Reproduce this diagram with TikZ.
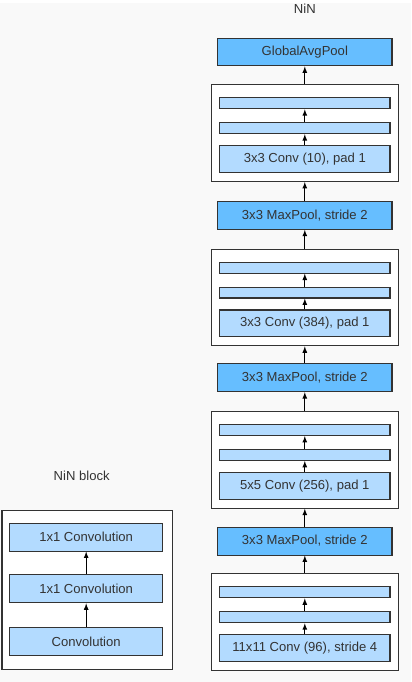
\documentclass[tikz,border=0pt]{standalone}
\usepackage{fontspec}
\setmainfont{Liberation Sans}
\definecolor{pale}{HTML}{B3DBFF}
\definecolor{deep}{HTML}{66BEFF}
\definecolor{edge}{HTML}{333333}
\definecolor{paper}{HTML}{F9F9F9}
\begin{document}
\begin{tikzpicture}[x=0.03cm,y=-0.03cm,font=\fontsize{11.2}{13}\selectfont,
  box/.style={draw=edge,line width=0.9pt,text=edge,inner sep=0pt,anchor=north},
  pool/.style={box,fill=deep,minimum width=5.25cm,minimum height=0.84cm},
  bar/.style={box,fill=pale,minimum width=5.13cm,minimum height=0.33cm},
  conv/.style={box,fill=pale,minimum width=5.13cm,minimum height=0.81cm},
  blk/.style={box,fill=white,minimum width=5.64cm,minimum height=2.91cm},
  unit/.style={box,fill=pale,minimum width=4.59cm,minimum height=0.84cm},
  up/.style={-latex,draw=black,line width=0.9pt}]
\fill[paper](0,0)rectangle(413,682);
% NiN
\node[text=edge](nin)at(306,6){NiN};
\node[pool](gap)at(306,35){GlobalAvgPool};
\foreach \i/\t in {1/199,2/362,3/526}{\node[pool](pool\i)at(306,\t){3x3 MaxPool, stride 2};}
\foreach \i/\t/\lab in {1/82/{3x3 Conv (10), pad 1},2/247/{3x3 Conv (384), pad 1},
  3/410/{5x5 Conv (256), pad 1},4/573/{11x11 Conv (96), stride 4}}{
  \node[blk](blk\i)at(306,\t){};
  \node[bar](barA\i)at(306,\t+13){};
  \node[bar](barB\i)at(306,\t+38){};
  \node[conv](conv\i)at(306,\t+61){\lab};
  \draw[up](conv\i.north)--(barB\i.south);
  \draw[up](barB\i.north)--(barA\i.south);}
\draw[up](blk1.north)--(gap.south);
\foreach \i/\j in {1/2,2/3,3/4}{
  \draw[up](blk\j.north)--(pool\i.south);
  \draw[up](pool\i.north)--(blk\i.south);}
% NiN block
\node[text=edge](blocktitle)at(82,475){NiN block};
\node[box,fill=white,minimum width=5.13cm,minimum height=4.8cm](outer)at(87.5,509){};
\node[unit](top)at(86.5,522){1x1 Convolution};
\node[unit](mid)at(86.5,574){1x1 Convolution};
\node[unit](base)at(86.5,627){Convolution};
\draw[up](base.north)--(mid.south);
\draw[up](mid.north)--(top.south);
\end{tikzpicture}
\end{document}
